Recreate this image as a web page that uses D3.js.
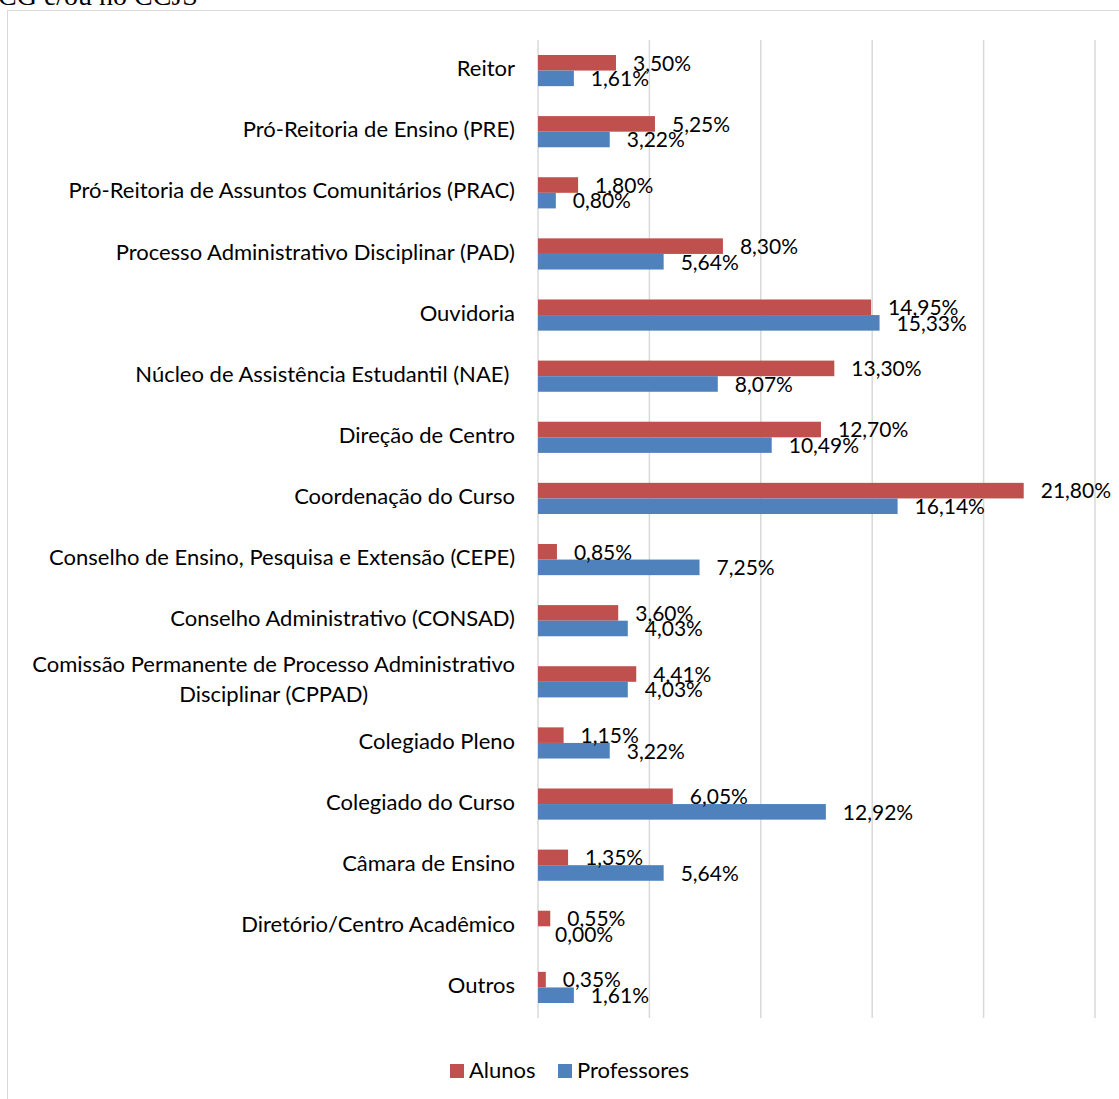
<!DOCTYPE html>
<html>
<head>
<meta charset="utf-8">
<script src="https://cdn.jsdelivr.net/npm/d3@7"></script>
<style>
  html, body { margin: 0; padding: 0; background: #fff; overflow: hidden; }
  svg { display: block; }
</style>
</head>
<body>
<svg id="chart" width="1119" height="1099"></svg>
<script>
// Orgãos procurados por alunos e professores (%)
const categories = [
  "Reitor",
  "Pró-Reitoria de Ensino (PRE)",
  "Pró-Reitoria de Assuntos Comunitários (PRAC)",
  "Processo Administrativo Disciplinar (PAD)",
  "Ouvidoria",
  "Núcleo de Assistência Estudantil (NAE) ",
  "Direção de Centro",
  "Coordenação do Curso",
  "Conselho de Ensino, Pesquisa e Extensão (CEPE)",
  "Conselho Administrativo (CONSAD)",
  "Comissão Permanente de Processo Administrativo Disciplinar (CPPAD)",
  "Colegiado Pleno",
  "Colegiado do Curso",
  "Câmara de Ensino",
  "Diretório/Centro Acadêmico",
  "Outros"
];
const seriesNames = ["Alunos", "Professores"];
const alunos = [3.50, 5.25, 1.80, 8.30, 14.95, 13.30, 12.70, 21.80, 0.85, 3.60, 4.41, 1.15, 6.05, 1.35, 0.55, 0.35];
const professores = [1.61, 3.22, 0.80, 5.64, 15.33, 8.07, 10.49, 16.14, 7.25, 4.03, 4.03, 3.22, 12.92, 5.64, 0.00, 1.61];
const gridTicks = [0, 5, 10, 15, 20, 25];
const titleText = "CG e/ou no CCJS";

const colors = { "Alunos": "#C0504D", "Professores": "#4F81BD" };
const seriesValues = { "Alunos": alunos, "Professores": professores };
const font = "Lato, 'Open Sans', sans-serif";
const fmt = v => v.toFixed(2).replace(".", ",") + "%";

const svg = d3.select("#chart");

// partially visible heading above the chart frame
svg.append("text")
  .attr("x", -2).attr("y", 5)
  .attr("font-family", "'Liberation Serif', 'Times New Roman', serif")
  .attr("font-size", 28)
  .attr("fill", "#000")
  .text(titleText);

// chart frame
svg.append("rect")
  .attr("x", 7.5).attr("y", 10.5)
  .attr("width", 1200).attr("height", 1200)
  .attr("fill", "none")
  .attr("stroke", "#d9d9d9")
  .attr("stroke-width", 1);

const x = d3.scaleLinear().domain([0, 25]).range([538, 1095]);
const y = d3.scaleBand().domain(categories).range([40, 1018])
  .paddingInner(0.49).paddingOuter(0.245);
const ySub = d3.scaleBand().domain(seriesNames).range([0, y.bandwidth()]);

// vertical gridlines
svg.append("g").selectAll("line")
  .data(gridTicks).join("line")
  .attr("x1", d => x(d)).attr("x2", d => x(d))
  .attr("y1", 40).attr("y2", 1018)
  .attr("stroke", "#d9d9d9")
  .attr("stroke-width", 1.5);

// bars
const groups = svg.append("g").selectAll("g")
  .data(categories).join("g")
  .attr("transform", d => `translate(0,${y(d)})`);

groups.selectAll("rect")
  .data((c, i) => seriesNames.map(s => ({ s, v: seriesValues[s][i] })))
  .join("rect")
  .attr("x", x(0))
  .attr("y", d => ySub(d.s))
  .attr("width", d => x(d.v) - x(0))
  .attr("height", ySub.bandwidth())
  .attr("fill", d => colors[d.s]);

// value labels
groups.selectAll("text")
  .data((c, i) => seriesNames.map(s => ({ s, v: seriesValues[s][i] })))
  .join("text")
  .attr("x", d => x(d.v) + 17)
  .attr("y", d => ySub(d.s) + ySub.bandwidth() / 2 + 2.5)
  .attr("dominant-baseline", "middle")
  .attr("font-family", font)
  .attr("font-size", 21)
  .attr("fill", "#000")
  .text(d => fmt(d.v));

// category labels, wrapped when too wide
const labelRight = 515, maxLabelWidth = 500, lineHeight = 30;
const labels = svg.append("g");
categories.forEach(c => {
  const t = labels.append("text")
    .attr("font-family", font)
    .attr("font-size", 22)
    .attr("fill", "#000")
    .attr("xml:space", "preserve")
    .style("white-space", "pre");
  const words = c.split(" ").filter(w => w.length);
  const lines = [];
  let cur = "";
  const probe = t.append("tspan");
  words.forEach(w => {
    const test = cur ? cur + " " + w : w;
    probe.text(test);
    if (probe.node().getComputedTextLength() > maxLabelWidth && cur) {
      lines.push(cur); cur = w;
    } else cur = test;
  });
  lines.push(cur);
  if (lines.length === 1) lines[0] = c;
  const ws = lines.map(l => { probe.text(l); return probe.node().getComputedTextLength(); });
  probe.remove();
  const cy = y(c) + y.bandwidth() / 2;
  if (lines.length === 1) {
    t.append("tspan").attr("x", labelRight).attr("y", cy)
      .attr("text-anchor", "end").attr("dominant-baseline", "middle").text(lines[0]);
  } else {
    const centerX = labelRight - d3.max(ws) / 2;
    lines.forEach((l, k) => {
      t.append("tspan").attr("x", centerX)
        .attr("y", cy + (k - (lines.length - 1) / 2) * lineHeight)
        .attr("text-anchor", "middle").attr("dominant-baseline", "middle").text(l);
    });
  }
});

// legend
const legend = svg.append("g");
const legendItems = [
  { s: "Alunos", x: 450 },
  { s: "Professores", x: 558 }
];
legendItems.forEach(it => {
  legend.append("rect")
    .attr("x", it.x).attr("y", 1064)
    .attr("width", 14).attr("height", 14)
    .attr("fill", colors[it.s]);
  legend.append("text")
    .attr("x", it.x + 19).attr("y", 1072)
    .attr("dominant-baseline", "middle")
    .attr("font-family", font)
    .attr("font-size", 22)
    .attr("fill", "#000")
    .text(it.s);
});
</script>
</body>
</html>
